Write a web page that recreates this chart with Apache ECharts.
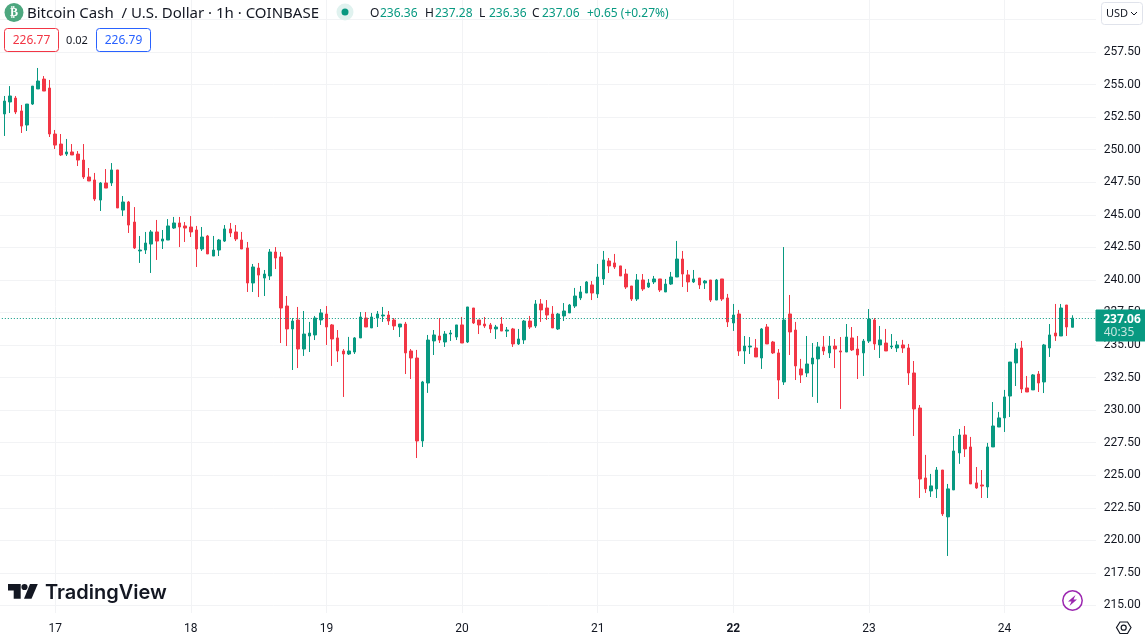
<!DOCTYPE html>
<html>
<head>
<meta charset="utf-8">
<style>
  html, body { margin: 0; padding: 0; background: #fff; }
  #chart { width: 1145px; height: 640px; }
</style>
<script src="https://cdn.jsdelivr.net/npm/echarts@6/dist/echarts.min.js"></script>
</head>
<body>
<div id="chart"></div>
<script>
  // hourly candles, first one is 16th 14:00 (cut by the left edge)
  var opens = [252.15,252.74,253.66,253.96,252.97,251.89,253.50,254.66,255.42,254.73,
    251.20,250.43,249.66,249.82,249.66,249.20,247.90,247.67,246.13,247.44,
    247.44,248.44,245.36,245.98,244.44,242.22,242.29,242.75,243.68,242.98,
    243.06,243.98,244.37,244.14,244.06,243.83,242.37,243.37,241.83,242.29,
    242.98,243.91,243.68,243.06,242.45,239.76,240.91,240.14,240.30,242.14,
    241.76,237.99,236.23,236.92,234.69,235.69,235.77,236.92,237.38,236.54,
    235.54,234.54,234.31,234.46,235.54,237.07,236.31,237.07,237.23,237.30,
    236.92,236.38,236.61,234.54,234.00,227.63,232.08,235.31,235.69,235.23,
    235.84,235.61,236.54,235.23,237.84,236.92,236.61,236.54,236.23,236.61,
    236.07,236.23,235.08,235.39,236.84,236.46,238.15,237.84,237.38,236.23,
    237.23,237.46,237.99,238.61,238.99,239.61,238.92,240.07,241.45,241.30,
    241.07,240.45,239.53,238.53,239.99,239.45,239.84,240.07,239.07,239.68,
    240.22,241.60,240.38,239.84,240.14,239.76,239.99,238.45,240.07,238.61,
    236.69,237.38,234.54,234.85,234.77,234.00,236.38,235.23,234.39,232.16,
    237.38,236.15,233.16,232.85,233.54,233.93,234.85,234.39,234.92,234.54,
    234.46,235.54,234.69,234.39,235.30,236.92,235.00,235.15,234.85,234.77,
    235.00,234.77,232.85,230.16,224.79,223.79,223.95,225.40,221.80,223.87,
    226.71,228.09,227.17,224.41,224.25,224.10,227.17,228.70,229.40,231.08,
    233.62,234.77,231.70,231.55,232.77,232.16,234.77,235.92,235.69,238.07,
    236.36];
  var closes = [252.86,253.73,254.12,252.89,251.81,253.50,254.88,255.27,254.50,251.20,
    250.35,249.59,249.82,249.59,249.20,247.90,247.59,246.21,247.44,247.05,
    248.44,245.52,245.98,244.21,242.45,242.29,242.83,243.68,242.98,243.14,
    244.14,244.37,244.06,243.98,243.68,242.37,243.29,241.99,242.29,243.06,
    243.91,243.60,243.14,242.37,239.76,240.99,240.37,240.45,242.14,241.68,
    237.84,236.23,236.84,234.69,235.84,235.92,237.07,237.46,236.38,235.46,
    234.54,234.31,234.54,235.54,237.15,236.38,237.15,237.38,237.30,236.84,
    236.46,236.61,234.39,234.00,227.63,232.16,235.38,235.77,235.38,235.84,
    235.92,236.54,235.15,237.92,236.69,236.54,236.46,236.23,236.38,236.07,
    236.15,235.08,235.46,236.84,236.38,238.15,237.69,237.30,236.31,237.38,
    237.61,238.07,238.76,239.07,239.84,238.99,240.22,241.53,241.07,240.99,
    240.30,239.45,238.53,239.99,239.30,239.76,240.07,239.22,239.68,240.22,
    241.60,240.45,239.84,240.07,239.61,239.91,238.45,239.99,238.53,236.77,
    237.30,234.54,234.92,234.92,234.08,236.23,235.08,234.39,232.31,236.92,
    236.00,233.39,232.70,233.54,234.00,234.85,234.54,234.92,234.69,234.46,
    235.61,234.62,234.23,235.30,236.99,235.08,235.39,234.54,234.92,235.00,
    234.77,232.85,230.09,224.71,223.95,224.18,225.40,222.03,223.95,226.86,
    228.09,227.02,224.33,224.02,224.17,227.17,228.78,229.40,231.01,233.69,
    234.69,231.62,231.39,232.70,232.08,235.00,235.77,235.69,237.84,236.38,
    237.06];
  var highs = [253.04,254.12,254.88,254.12,253.43,253.50,254.88,256.27,255.65,255.35,
    251.51,251.20,250.82,250.43,249.89,250.43,248.59,248.21,247.51,248.51,
    248.97,248.44,246.44,246.06,245.59,243.37,243.68,243.83,244.60,243.83,
    244.67,244.83,244.83,244.44,244.90,244.14,244.06,243.45,243.37,243.14,
    244.21,244.37,244.21,243.68,242.91,241.22,241.30,240.76,242.37,242.52,
    242.14,238.76,237.07,237.92,237.61,236.77,237.23,237.76,237.99,236.61,
    236.15,234.69,235.62,235.61,237.53,237.53,237.46,237.61,237.92,237.61,
    237.07,236.61,236.77,234.69,234.62,232.24,235.77,236.15,237.07,236.07,
    236.15,236.54,237.15,237.92,237.84,236.92,237.15,236.69,236.54,237.15,
    236.38,236.31,236.23,236.92,237.23,238.45,238.53,238.45,237.99,237.46,
    238.22,238.15,239.38,239.53,239.91,239.91,241.22,242.22,241.68,241.99,
    241.07,240.84,239.53,240.45,240.45,240.07,240.30,240.07,240.07,240.61,
    242.99,242.22,240.76,240.76,240.14,239.99,239.99,240.07,240.07,238.92,
    238.15,237.69,235.69,235.61,235.46,236.30,236.61,235.31,234.69,242.52,
    238.84,236.77,233.93,235.69,235.15,235.23,235.69,235.69,235.46,235.61,
    236.61,236.38,235.69,235.46,237.76,237.07,236.46,236.23,235.84,235.30,
    235.39,235.08,233.77,230.39,226.56,225.10,225.63,225.40,224.33,228.01,
    228.55,228.78,227.94,225.63,225.40,227.48,230.62,229.86,231.55,233.69,
    235.15,235.31,232.62,232.77,233.00,235.08,236.61,238.15,238.15,238.07,
    237.28];
  var lows = [252.02,251.05,252.81,252.73,251.28,251.43,253.43,254.66,254.50,250.97,
    250.05,249.51,249.51,249.59,248.74,247.75,247.59,246.06,245.29,247.05,
    247.21,245.52,244.90,243.60,242.37,241.30,241.99,240.53,241.53,242.37,
    243.06,243.91,242.52,242.91,243.29,240.99,242.22,241.99,241.83,241.83,
    242.91,243.29,242.98,242.37,239.07,239.07,238.68,238.76,239.99,240.83,
    235.15,234.92,233.08,233.23,234.16,234.46,235.38,236.54,235.00,233.39,
    233.69,231.01,234.23,234.31,235.54,236.38,236.31,236.38,236.77,236.54,
    236.15,235.61,232.77,232.39,226.32,227.17,231.32,234.23,235.15,234.85,
    235.31,235.38,235.15,235.15,236.61,235.84,236.31,235.92,235.46,236.07,
    235.61,234.85,235.00,235.08,236.23,236.31,236.77,236.92,236.31,236.15,
    236.84,237.46,237.84,238.45,238.99,238.45,238.61,239.61,240.53,240.84,
    240.30,239.30,238.38,238.38,239.15,239.38,239.68,239.07,239.07,239.61,
    240.22,239.45,239.07,239.76,239.30,239.30,238.30,238.45,238.38,236.38,
    236.08,234.16,233.54,234.31,234.08,233.16,235.08,234.31,230.85,231.93,
    234.23,232.31,232.08,232.54,231.01,230.55,234.23,234.00,233.23,230.09,
    234.46,234.54,232.39,232.62,235.15,234.62,234.00,234.54,234.69,234.46,
    234.39,231.93,228.01,223.25,223.64,223.33,223.25,221.87,218.80,223.87,
    225.87,226.40,224.33,223.95,223.25,223.25,227.17,228.70,228.32,229.47,
    231.85,231.31,231.39,231.55,231.39,231.31,234.08,235.31,235.69,235.69,
    236.36];
  var dayLabels = ['17','18','19','20','21','22','23','24'];
  var priceLabels = [215,217.5,220,222.5,225,227.5,230,232.5,235,237.5,240,242.5,245,247.5,250,252.5,255,257.5];
  var gridPrices = priceLabels.concat([260]);
  var lastPrice = 237.06;
  var ohlcNames = ['O','H','L','C'];
  var ohlcValues = ['236.36','237.28','236.36','237.06'];

  var upColor = '#089981';
  var downColor = '#F23645';
  var gridColor = '#f2f3f5';
  var textColor = '#131722';
  var uiFont = '"Noto Sans", sans-serif';

  // 4 empty hours on the right so the bands come out at the same width
  var categories = [];
  var candles = [];
  for (var i = 0; i < 195; i++) {
    categories.push((i - 10) % 24 === 0 ? dayLabels[(i - 10) / 24] : '');
    if (i < opens.length) {
      candles.push([opens[i], closes[i], lows[i], highs[i]]);
    }
  }
  var isDay = function (idx, val) { return val !== ''; };

  function label(x, y, text, fill, font, align) {
    return {
      type: 'text', z: 20,
      style: { x: x, y: y, text: text, fill: fill, font: font, align: align || 'left', verticalAlign: 'middle' }
    };
  }
  function box(x, y, w, h, stroke, fill, r) {
    return {
      type: 'rect', z: 19,
      shape: { x: x, y: y, width: w, height: h, r: r },
      style: { stroke: stroke, fill: fill, lineWidth: 1 }
    };
  }

  var extras = [
    // the last bands run 2px past the pane, trim the grid lines there
    { type: 'rect', z: 1, shape: { x: 1096, y: 0, width: 4, height: 640 }, style: { fill: '#fff' } },
    { type: 'circle', z: 19, shape: { cx: 14, cy: 12.5, r: 9.5 }, style: { fill: '#4da77f' } },
    label(14, 12.5, '₿', '#fff', 'bold 12px "DejaVu Sans"', 'center'),
    label(27, 14, 'Bitcoin Cash  / U.S. Dollar · 1h · COINBASE', textColor, '15px ' + uiFont),
    { type: 'circle', z: 19, shape: { cx: 345, cy: 12, r: 8.5 }, style: { fill: '#e0f2ef' } },
    { type: 'circle', z: 20, shape: { cx: 345, cy: 12, r: 3.5 }, style: { fill: upColor } },
    label(587, 13.5, '+0.65 (+0.27%)', upColor, '12px ' + uiFont),
    box(4.5, 28.5, 54, 23, downColor, '#fff', 3),
    label(31.5, 40.5, '226.77', downColor, '12px ' + uiFont, 'center'),
    label(77, 40.5, '0.02', textColor, '11px ' + uiFont, 'center'),
    box(96.5, 28.5, 54, 23, '#2962FF', '#fff', 3),
    label(123.5, 40.5, '226.79', '#2962FF', '12px ' + uiFont, 'center'),
    // last price tag
    box(1096, 310, 49, 31, upColor, upColor, 0),
    label(1122, 320, '237.06', '#fff', 'bold 12px ' + uiFont, 'center'),
    label(1119, 333, '40:35', '#c5e6df', '12px ' + uiFont, 'center'),
    // currency button
    box(1101.5, 2.5, 41, 22, '#e0e3eb', '#fff', 3),
    label(1106, 13.5, 'USD', textColor, '11px ' + uiFont),
    { type: 'polyline', z: 20, shape: { points: [[1131, 12], [1134, 15], [1137, 12]] }, style: { stroke: textColor, fill: null, lineWidth: 1 } },
    // TradingView mark and word
    { type: 'polygon', z: 19, shape: { points: [[8, 584], [20.7, 584], [20.7, 598.7], [13.7, 598.7], [13.7, 590.5], [8, 590.5]] }, style: { fill: textColor } },
    { type: 'circle', z: 19, shape: { cx: 24.5, cy: 587, r: 3.1 }, style: { fill: textColor } },
    { type: 'polygon', z: 19, shape: { points: [[30, 584], [37.8, 584], [31.5, 598.7], [24, 598.7]] }, style: { fill: textColor } },
    label(45, 592.5, 'TradingView', textColor, '600 20px Inter'),
    // bolt and settings buttons
    { type: 'circle', z: 19, shape: { cx: 1072.5, cy: 600.5, r: 9.7 }, style: { stroke: '#9c27b0', fill: '#fff', lineWidth: 1.5 } },
    { type: 'polygon', z: 20, shape: { points: [[1075.5, 595], [1068, 601.5], [1071.5, 601.5], [1069.5, 606], [1077, 599.5], [1073.5, 599.5]] }, style: { fill: '#9c27b0' } },
    { type: 'polygon', z: 19, shape: { points: [[1116.5, 627.5], [1120, 622], [1127.5, 622], [1131, 627.5], [1127.5, 633.5], [1120, 633.5]] }, style: { stroke: textColor, fill: '#fff', lineWidth: 1.2 } },
    { type: 'circle', z: 20, shape: { cx: 1123.7, cy: 627.7, r: 2.5 }, style: { stroke: textColor, fill: '#fff', lineWidth: 1.2 } }
  ];
  var ohlcX = [370, 425, 479, 532];
  ohlcNames.forEach(function (n, k) {
    extras.push(label(ohlcX[k], 13.5, n, textColor, '12px ' + uiFont));
    extras.push(label(ohlcX[k] + 10, 13.5, ohlcValues[k], upColor, '12px ' + uiFont));
  });

  var myChart = echarts.init(document.getElementById('chart'), null, { renderer: 'canvas' });
  myChart.setOption({
    animation: false,
    backgroundColor: '#fff',
    grid: { left: -4.17, top: 0, width: 1101.95, height: 613, outerBoundsMode: 'none' },
    xAxis: {
      type: 'category',
      data: categories,
      axisLine: { show: false },
      axisTick: { show: false },
      axisLabel: {
        interval: isDay,
        margin: 8,
        color: textColor,
        fontFamily: 'Roboto',
        fontSize: 12,
        padding: [2, 0, 0, 0],
        formatter: function (v) { return v === '22' ? '{b|' + v + '}' : v; },
        rich: { b: { fontWeight: 'bold', fontSize: 12, fontFamily: 'Roboto', color: textColor } }
      },
      splitLine: { show: true, interval: isDay, alignWithLabel: true, lineStyle: { color: gridColor, width: 1 } }
    },
    yAxis: {
      type: 'value',
      position: 'right',
      min: 214.42,
      max: 261.49,
      axisLine: { show: false },
      axisTick: { show: false, customValues: gridPrices },
      axisLabel: {
        customValues: priceLabels,
        margin: 6,
        color: textColor,
        fontFamily: 'Roboto',
        fontSize: 12,
        padding: [4, 0, 0, 0],
        formatter: function (v) { return v.toFixed(2); }
      },
      splitLine: { show: true, lineStyle: { color: gridColor, width: 1 } }
    },
    series: [{
      type: 'candlestick',
      data: candles,
      barWidth: 3,
      itemStyle: {
        color: upColor,
        color0: downColor,
        borderColor: upColor,
        borderColor0: downColor,
        borderWidth: 1
      },
      markLine: {
        silent: true,
        symbol: 'none',
        label: { show: false },
        lineStyle: { color: upColor, type: [1, 2], width: 1 },
        data: [{ yAxis: lastPrice }]
      }
    }],
    graphic: extras
  });
</script>
</body>
</html>
